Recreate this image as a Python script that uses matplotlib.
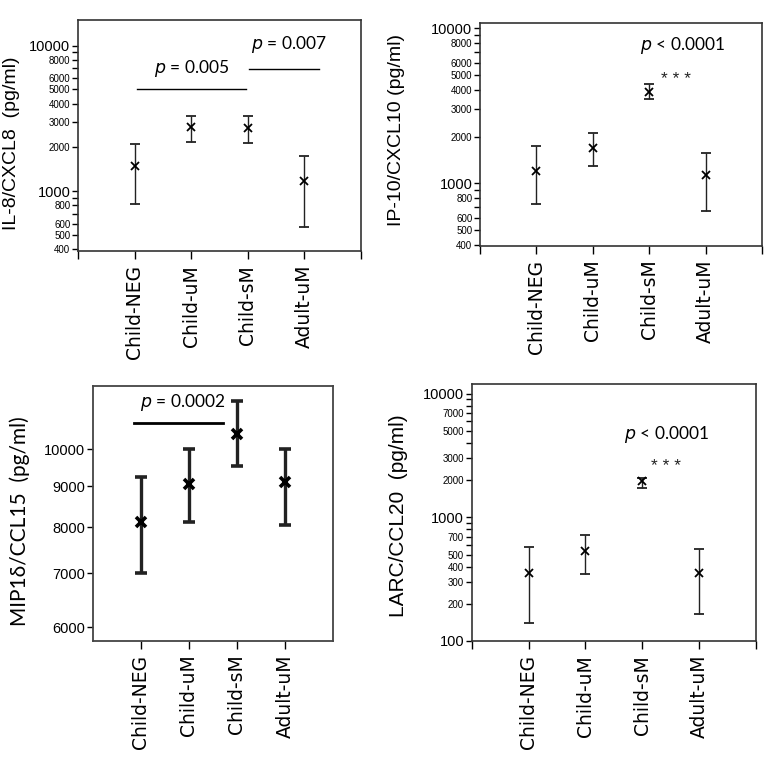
import numpy as np
import matplotlib
matplotlib.use("Agg")
import matplotlib.pyplot as plt
from matplotlib.ticker import FixedLocator, NullFormatter

# groups on the x axis
groups = ["Child-NEG", "Child-uM", "Child-sM", "Adult-uM"]

# IL-8/CXCL8 (pg/ml)
il8_mid = [1500, 2785, 2720, 1184]
il8_low = [820, 2180, 2130, 570]
il8_high = [2110, 3310, 3310, 1740]

# IP-10/CXCL10 (pg/ml)
ip10_mid = [1208, 1687, 3865, 1122]
ip10_low = [731, 1283, 3486, 665]
ip10_high = [1730, 2108, 4357, 1563]

# MIP1d/CCL15 (pg/ml)
mip_mid = [8120, 9060, 10450, 9100]
mip_low = [7000, 8110, 9530, 8050]
mip_high = [9240, 10020, 11500, 10020]

# LARC/CCL20 (pg/ml)
larc_mid = [357, 538, 1977, 357]
larc_low = [141, 350, 1745, 164]
larc_high = [573, 725, 2100, 560]

NARROW = ["Liberation Sans Narrow", "Liberation Sans", "DejaVu Sans"]
ARIAL = ["Liberation Sans", "DejaVu Sans"]
CALIB = ["Lato", "DejaVu Sans"]

fig = plt.figure(figsize=(7.71, 7.78), dpi=100)


def draw_points(ax, mid, low, high, lw=1.0, ms=5.5, mew=1.3, cap=3.5):
    x = np.arange(1, len(groups) + 1)
    mid = np.array(mid)
    yerr = [mid - np.array(low), np.array(high) - mid]
    ax.errorbar(x, mid, yerr=yerr, fmt="x", color="black", ecolor="#222222",
                elinewidth=lw, capsize=cap, capthick=lw, ms=ms, mew=mew)


def log_axis(ax, big, small, minor, lo, hi):
    ax.set_yscale("log")
    ax.set_ylim(lo, hi)
    ticks = big + small
    ax.yaxis.set_major_locator(FixedLocator(ticks))
    ax.yaxis.set_minor_locator(FixedLocator(minor))
    ax.yaxis.set_minor_formatter(NullFormatter())
    ax.set_yticklabels([str(t) for t in ticks])
    for lab, t in zip(ax.get_yticklabels(), ticks):
        if t in big:
            lab.set_fontsize(10.5)
            lab.set_family(ARIAL)
        else:
            lab.set_fontsize(7)
            lab.set_family(NARROW)
    ax.tick_params(axis="y", which="major", length=4, width=1, pad=1.5)
    ax.tick_params(axis="y", which="minor", length=4, width=1)


def x_axis(ax, ends=True):
    if ends:
        ax.set_xticks(range(0, 6))
        ax.set_xticklabels([""] + groups + [""], rotation=90, fontsize=13.5)
    else:
        ax.set_xticks(range(1, 5))
        ax.set_xticklabels(groups, rotation=90, fontsize=13.5)
    ax.set_xlim(0, 5)
    ax.tick_params(axis="x", length=6, width=1, pad=4)


# panel 1: IL-8
ax1 = fig.add_axes([0.1012, 0.6774, 0.367, 0.297])
draw_points(ax1, il8_mid, il8_low, il8_high)
log_axis(ax1, [10000, 1000], [8000, 6000, 5000, 4000, 3000, 2000, 800, 600, 500, 400],
         [9000, 7000, 900, 700], 390, 15000)
x_axis(ax1)
ax1.set_ylabel("IL-8/CXCL8  (pg/ml)", fontsize=14, family=ARIAL)
ax1.yaxis.set_label_coords(-0.205, 0.465)
ax1.plot([1.04, 2.97], [5020, 5020], color="black", lw=1)
ax1.plot([3.02, 4.26], [6950, 6950], color="black", lw=1)
ax1.text(2.0, 6920, "$\\it{p}$ = 0.005", ha="center", va="center", fontsize=12.5, family=CALIB)
ax1.text(3.72, 10120, "$\\it{p}$ = 0.007", ha="center", va="center", fontsize=12.5, family=CALIB)

# panel 2: IP-10
ax2 = fig.add_axes([0.6226, 0.6842, 0.3658, 0.2866])
draw_points(ax2, ip10_mid, ip10_low, ip10_high)
log_axis(ax2, [10000, 1000], [8000, 6000, 5000, 4000, 3000, 2000, 800, 600, 500, 400],
         [9000, 7000, 900, 700], 395, 10870)
x_axis(ax2)
ax2.set_ylabel("IP-10/CXCL10 (pg/ml)", fontsize=14, family=ARIAL)
ax2.yaxis.set_label_coords(-0.266, 0.519)
ax2.text(3.6, 7800, "$\\it{p}$ < 0.0001", ha="center", va="center", fontsize=12.5, family=CALIB)
ax2.text(3.47, 4395, "* * *", ha="center", va="baseline", fontsize=12.5, family=ARIAL,
         color="#222222")

# panel 3: MIP1d
ax3 = fig.add_axes([0.1206, 0.1765, 0.3113, 0.3274])
draw_points(ax3, mip_mid, mip_low, mip_high, lw=2.4, ms=6.5, mew=2.6, cap=4.5)
ax3.set_yscale("log")
ax3.set_ylim(5770, 12000)
mip_ticks = [6000, 7000, 8000, 9000, 10000]
ax3.yaxis.set_major_locator(FixedLocator(mip_ticks))
ax3.yaxis.set_minor_locator(FixedLocator([]))
ax3.set_yticklabels([str(t) for t in mip_ticks], fontsize=10.5, family=ARIAL)
ax3.tick_params(axis="y", length=4, width=1, pad=1.5)
ax3.set_xticks(range(1, 5))
ax3.set_xticklabels(groups, rotation=90, fontsize=13.5)
ax3.set_xlim(0, 5)
ax3.tick_params(axis="x", length=6, width=1, pad=4)
for s in ax3.spines.values():
    s.set_color("#444444")
    s.set_linewidth(1.3)
ax3.set_ylabel("MIP1δ/CCL15  (pg/ml)", fontsize=15, family=CALIB)
ax3.yaxis.set_label_coords(-0.2625, 0.47)
ax3.plot([0.86, 2.71], [10800, 10800], color="black", lw=2)
ax3.text(1.87, 11430, "$\\it{p}$ = 0.0002", ha="center", va="center", fontsize=12.5, family=CALIB)

# panel 4: LARC
ax4 = fig.add_axes([0.6118, 0.1761, 0.3684, 0.3303])
draw_points(ax4, larc_mid, larc_low, larc_high)
log_axis(ax4, [10000, 1000, 100], [7000, 5000, 3000, 2000, 700, 500, 400, 300, 200],
         [9000, 8000, 6000, 4000, 900, 800, 600], 100, 12000)
x_axis(ax4)
ax4.set_ylabel("LARC/CCL20  (pg/ml)", fontsize=15, family=ARIAL)
ax4.yaxis.set_label_coords(-0.223, 0.486)
ax4.text(3.43, 4645, "$\\it{p}$ < 0.0001", ha="center", va="center", fontsize=12.5, family=CALIB)
ax4.text(3.42, 2361, "* * *", ha="center", va="baseline", fontsize=12.5, family=ARIAL,
         color="#222222")

for ax in (ax1, ax2, ax4):
    for s in ax.spines.values():
        s.set_color("#333333")
        s.set_linewidth(1.2)

fig.savefig("out.png", dpi=100)
